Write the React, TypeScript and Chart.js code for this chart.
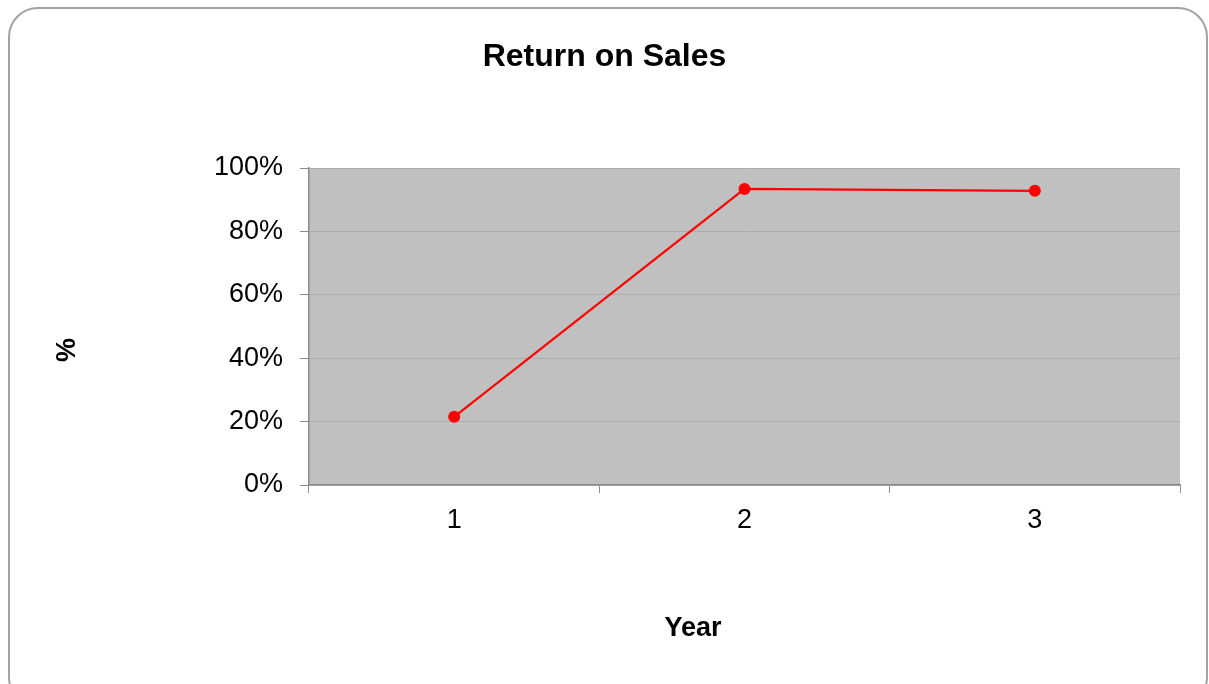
import React, { useEffect, useRef } from "react";
import { Chart, registerables } from "chart.js";

Chart.register(...registerables);

const chartTitle = "Return on Sales";
const xAxisTitle = "Year";
const yAxisTitle = "%";
const categories = ["1", "2", "3"];
const returnOnSales = [21.5, 93.4, 92.8];
const yTickValues = [0, 20, 40, 60, 80, 100];

const FONT = "'Liberation Sans', Arial, sans-serif";

const plotBackground = {
  id: "plotBackground",
  beforeDraw(chart: any) {
    const { ctx, chartArea } = chart;
    ctx.save();
    ctx.fillStyle = "#c0c0c0";
    ctx.fillRect(chartArea.left, chartArea.top, chartArea.right - chartArea.left, chartArea.bottom - chartArea.top);
    ctx.restore();
  },
};

const axisTitles = {
  id: "axisTitles",
  afterDraw(chart: any) {
    const { ctx } = chart;
    ctx.save();
    ctx.fillStyle = "#000";
    ctx.font = `bold 27px ${FONT}`;
    ctx.textAlign = "center";
    ctx.textBaseline = "middle";
    ctx.fillText(xAxisTitle, 693, 629);
    ctx.translate(68, 350);
    ctx.rotate(-Math.PI / 2);
    ctx.fillText(yAxisTitle, 0, 0);
    ctx.restore();
  },
};

export default function App() {
  const canvasRef = useRef<HTMLCanvasElement | null>(null);

  useEffect(() => {
    if (!canvasRef.current) return;
    const chart = new Chart(canvasRef.current, {
      type: "line",
      data: {
        labels: categories,
        datasets: [
          {
            label: chartTitle,
            data: returnOnSales,
            borderColor: "#ff0000",
            backgroundColor: "#ff0000",
            borderWidth: 2.2,
            pointRadius: 6,
            pointHoverRadius: 6,
            pointBorderWidth: 0,
            pointBackgroundColor: "#ff0000",
            tension: 0,
          },
        ],
      },
      options: {
        responsive: false,
        animation: false,
        devicePixelRatio: 1,
        layout: { padding: { left: 29, right: 29, top: 0, bottom: 0 } },
        plugins: {
          legend: { display: false },
          tooltip: { enabled: false },
          title: {
            display: true,
            text: chartTitle,
            color: "#000",
            font: { family: FONT, size: 32, weight: "bold", lineHeight: 1.2 },
            padding: { top: 38, bottom: 91.6 },
          },
        },
        scales: {
          x: {
            type: "category",
            offset: true,
            grid: {
              offset: true,
              drawOnChartArea: false,
              drawTicks: true,
              tickLength: 8,
              tickColor: "#8c8c8c",
              color: "#8c8c8c",
            },
            border: { display: true, color: "#8c8c8c", width: 1.5 },
            ticks: {
              color: "#000",
              font: { family: FONT, size: 27 },
              padding: 11,
            },
            afterFit(scale: any) {
              scale.height = 684 - 485;
            },
          },
          y: {
            min: 0,
            max: 100,
            afterBuildTicks(scale: any) {
              scale.ticks = yTickValues.map((v) => ({ value: v }));
            },
            grid: {
              color: "#acacac",
              drawTicks: true,
              tickLength: 9,
              tickColor: "#8c8c8c",
            },
            border: { display: true, color: "#8c8c8c", width: 1.5 },
            ticks: {
              color: "#000",
              font: { family: FONT, size: 27 },
              padding: 17,
              callback: (v: any) => `${v}%`,
            },
            afterFit(scale: any) {
              scale.width = 309 - 29;
            },
          },
        },
      },
      plugins: [plotBackground, axisTitles],
    });
    return () => chart.destroy();
  }, []);

  return (
    <div style={{ position: "fixed", left: 0, top: 0, width: 1209, height: 684, background: "#fff", overflow: "hidden" }}>
      <div
        style={{
          position: "absolute",
          left: 8,
          top: 7,
          width: 1200,
          height: 700,
          boxSizing: "border-box",
          border: "2px solid #a3a3a3",
          borderRadius: 30,
        }}
      />
      <canvas ref={canvasRef} width={1209} height={684} style={{ position: "absolute", left: 0, top: 0 }} />
    </div>
  );
}
